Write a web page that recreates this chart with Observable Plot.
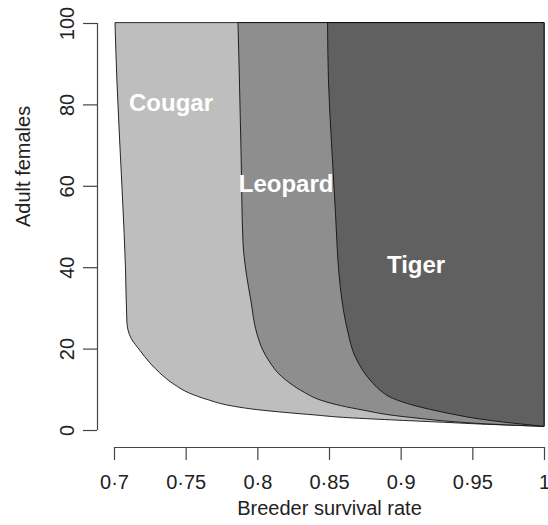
<!DOCTYPE html>
<html>
<head>
<meta charset="utf-8">
<script src="https://cdn.jsdelivr.net/npm/d3@7"></script>
<script src="https://cdn.jsdelivr.net/npm/@observablehq/plot@0.6"></script>
<style>
  html, body { margin: 0; padding: 0; background: #fff; }
  #chart { width: 548px; height: 525px; }
</style>
</head>
<body>
<div id="chart"></div>
<script>
// Boundary curves (breeder survival rate vs adult females)
const cougarX = [0.7007, 0.702, 0.706, 0.708, 0.709, 0.712, 0.718, 0.725, 0.732, 0.742, 0.753, 0.765, 0.781, 0.800, 0.820, 0.840, 0.860, 0.893, 0.930, 0.960, 1.000];
const cougarY = [100, 86, 56.5, 40, 26.5, 22.5, 19.6, 16.5, 14, 11.2, 9, 7.5, 6.0, 5.0, 4.3, 3.7, 3.1, 2.5, 1.9, 1.4, 0.9];

const leopardX = [0.7865, 0.7875, 0.7886, 0.790, 0.7925, 0.7954, 0.7996, 0.804, 0.809, 0.815, 0.8228, 0.833, 0.8437, 0.858, 0.8737, 0.8926, 0.912, 0.935, 0.960, 1.000];
const leopardY = [100, 86, 68.8, 46, 38, 32, 23.8, 19.5, 16.5, 13.8, 11.5, 9.2, 7.4, 6.0, 4.9, 3.7, 2.9, 2.1, 1.5, 0.9];

const tigerX = [0.849, 0.8496, 0.852, 0.854, 0.859, 0.8624, 0.8694, 0.8786, 0.8856, 0.8926, 0.9087, 0.932, 0.9554, 0.978, 1.000];
const tigerY = [100, 86, 68.8, 56.5, 32, 25.3, 17.2, 12.3, 9.8, 8.1, 6.1, 4.2, 2.7, 1.7, 0.9];

const species = ["Cougar", "Leopard", "Tiger"];
const speciesFill = ["#bebebe", "#8e8e8e", "#606060"];
const labelX = [0.7394, 0.8197, 0.9104];
const labelY = [80.3, 60.4, 40.5];

const xTicks = [0.7, 0.75, 0.8, 0.85, 0.9, 0.95, 1];
const yTicks = [0, 20, 40, 60, 80, 100];

const series = [
  {name: species[0], xs: cougarX, ys: cougarY},
  {name: species[1], xs: leopardX, ys: leopardY},
  {name: species[2], xs: tigerX, ys: tigerY}
];
const rows = series.flatMap(s => s.xs.map((x, i) => ({species: s.name, x, y: s.ys[i], right: 1})));
const labels = species.map((s, i) => ({species: s, x: labelX[i], y: labelY[i]}));

const font = "'Liberation Sans', Arial, Helvetica, sans-serif";

const chart = Plot.plot({
  width: 548,
  height: 525,
  marginLeft: 114,
  marginRight: 4,
  marginTop: 23,
  marginBottom: 95,
  style: {fontFamily: font, fontSize: "20px", color: "#222", background: "#fff"},
  x: {domain: [0.7, 1.0]},
  y: {domain: [0, 100]},
  color: {domain: species, range: speciesFill},
  marks: [
    Plot.areaX(rows, {
      y: "y", x1: "x", x2: "right", z: "species",
      fill: "species", stroke: "#111", strokeWidth: 0.9,
      curve: "monotone-y"
    }),
    Plot.text(labels, {
      x: "x", y: "y", text: "species",
      fill: "white", fontWeight: "bold", fontSize: 24, fontFamily: font
    }),
    // detached R-style axes
    Plot.ruleY([0], {x1: 0.7, x2: 1.0, dy: 17, stroke: "#444", strokeWidth: 1.2}),
    Plot.ruleX([0.7], {y1: 0, y2: 100, dx: -17, stroke: "#444", strokeWidth: 1.2}),
    Plot.axisX(xTicks, {
      anchor: "bottom", dy: 17, tickSize: 13, tickPadding: 14,
      tickFormat: d => String(d).replace(".", "·"),
      stroke: "#444", strokeWidth: 1.2, fontSize: 20, label: null
    }),
    Plot.axisY(yTicks, {
      anchor: "left", dx: -17, tickSize: 14, tickPadding: 10,
      tickRotate: -90, textAnchor: "middle", lineAnchor: "bottom",
      stroke: "#444", strokeWidth: 1.2, fontSize: 20, label: null
    }),
    Plot.text(["Breeder survival rate"], {
      frameAnchor: "bottom", dy: 84.6, fontSize: 20, fill: "#222"
    }),
    Plot.text(["Adult females"], {
      frameAnchor: "left", dx: -90.5, rotate: -90, fontSize: 20, fill: "#222"
    })
  ]
});
document.getElementById("chart").appendChild(chart);
</script>
</body>
</html>
